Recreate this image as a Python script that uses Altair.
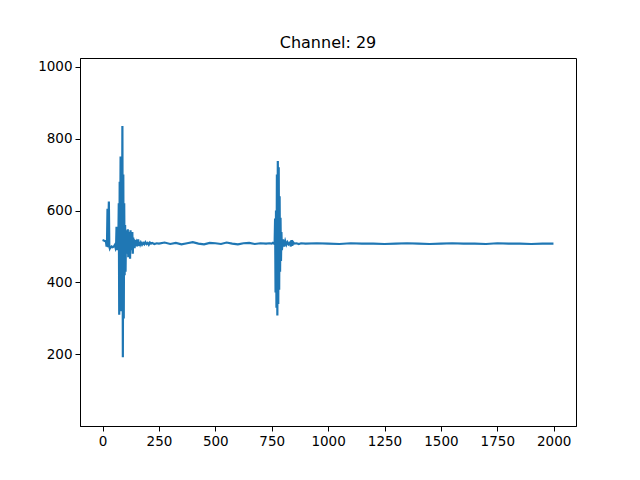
import altair as alt
import pandas as pd

# Burst 1 (sample index, value)
b1_x = [0, 5, 10, 15, 18, 20, 22, 24, 26, 28,
        30, 32, 34, 36, 40, 45, 50, 55, 58, 60,
        62, 64, 66, 68, 70, 72, 74, 76, 78, 80,
        82, 84, 86, 88, 90, 92, 94, 96, 98, 100,
        102, 104, 106, 108, 110, 112, 114, 116, 118, 120,
        122, 124, 126, 128, 130, 132, 134, 136, 138, 140,
        142, 144, 146, 148, 150, 152, 155, 158, 161, 164,
        167, 170, 175, 180, 185, 190, 195, 200, 205, 210,
        215, 220, 230, 240]
b1_y = [518, 517, 515, 514, 500, 520, 605, 498, 560, 625,
        500, 495, 498, 497, 500, 498, 500, 505, 496, 500,
        555, 490, 500, 498, 510, 620, 310, 680, 490, 750,
        320, 620, 400, 835, 192, 700, 300, 620, 420, 560,
        430, 545, 480, 530, 495, 548, 470, 520, 500, 540,
        466, 545, 490, 530, 500, 540, 480, 525, 505, 520,
        495, 515, 505, 518, 500, 512, 508, 520, 502, 513,
        506, 511, 505, 510, 506, 512, 507, 510, 505, 511,
        508, 510, 507, 509]

# Quiet stretch between bursts
q1_x = [250, 275, 300, 325, 350, 375, 400, 425, 450, 475,
        500, 525, 550, 575, 600, 625, 650, 675, 700, 725]
q1_y = [508, 511, 507, 510, 506, 509, 512, 508, 506, 510,
        509, 507, 511, 508, 506, 509, 510, 507, 509, 508]

# Burst 2
b2_x = [740, 750, 755, 760, 763, 765, 767, 769, 771, 773,
        775, 777, 779, 781, 783, 785, 787, 789, 791, 793,
        795, 800, 805, 810, 815, 820, 825, 830, 835, 838,
        841, 845, 850, 860, 870, 880]
b2_y = [509, 508, 510, 508, 512, 578, 372, 600, 330, 700,
        308, 738, 340, 720, 380, 640, 430, 580, 460, 540,
        490, 520, 500, 515, 505, 512, 506, 510, 500, 518,
        502, 512, 508, 509, 507, 509]

# Quiet tail
q2_x = [900, 950, 1000, 1050, 1100, 1150, 1200, 1250, 1300, 1350,
        1400, 1450, 1500, 1550, 1600, 1650, 1700, 1750, 1800, 1850,
        1900, 1950, 1999]
q2_y = [508, 509, 508, 507, 509, 508, 508, 507, 508, 509,
        508, 507, 508, 509, 508, 508, 507, 509, 508, 508,
        507, 508, 508]

xs = b1_x + q1_x + b2_x + q2_x
ys = b1_y + q1_y + b2_y + q2_y
df = pd.DataFrame({"sample": xs, "value": ys})

x_ticks = [0, 250, 500, 750, 1000, 1250, 1500, 1750, 2000]
y_ticks = [200, 400, 600, 800, 1000]

chart = alt.Chart(df).mark_line(color="#1f77b4", strokeWidth=2.2).encode(
    x=alt.X("sample:Q",
            scale=alt.Scale(domain=[-99.95, 2098.95], nice=False, zero=False),
            axis=alt.Axis(values=x_ticks, title=None, format="d")),
    y=alt.Y("value:Q",
            scale=alt.Scale(domain=[1, 1024], nice=False, zero=False),
            axis=alt.Axis(values=y_ticks, title=None, format="d")),
    order="sample:Q",
).properties(
    width=496,
    height=368,
    title=alt.TitleParams("Channel: 29", fontSize=16, font="DejaVu Sans",
                          fontWeight="normal", color="black", offset=7,
                          anchor="middle"),
    autosize=alt.AutoSizeParams(type="none"),
    padding={"left": 72, "top": 50, "right": 52, "bottom": 42},
).configure_view(
    stroke="black", strokeWidth=1
).configure_axis(
    grid=False,
    domainColor="black",
    tickColor="black",
    tickSize=5,
    tickWidth=1,
    labelColor="black",
    labelFont="DejaVu Sans",
    labelFontSize=13.5,
    labelPadding=3,
)

chart.save("out.html", embed_options={"renderer": "svg", "actions": False})
